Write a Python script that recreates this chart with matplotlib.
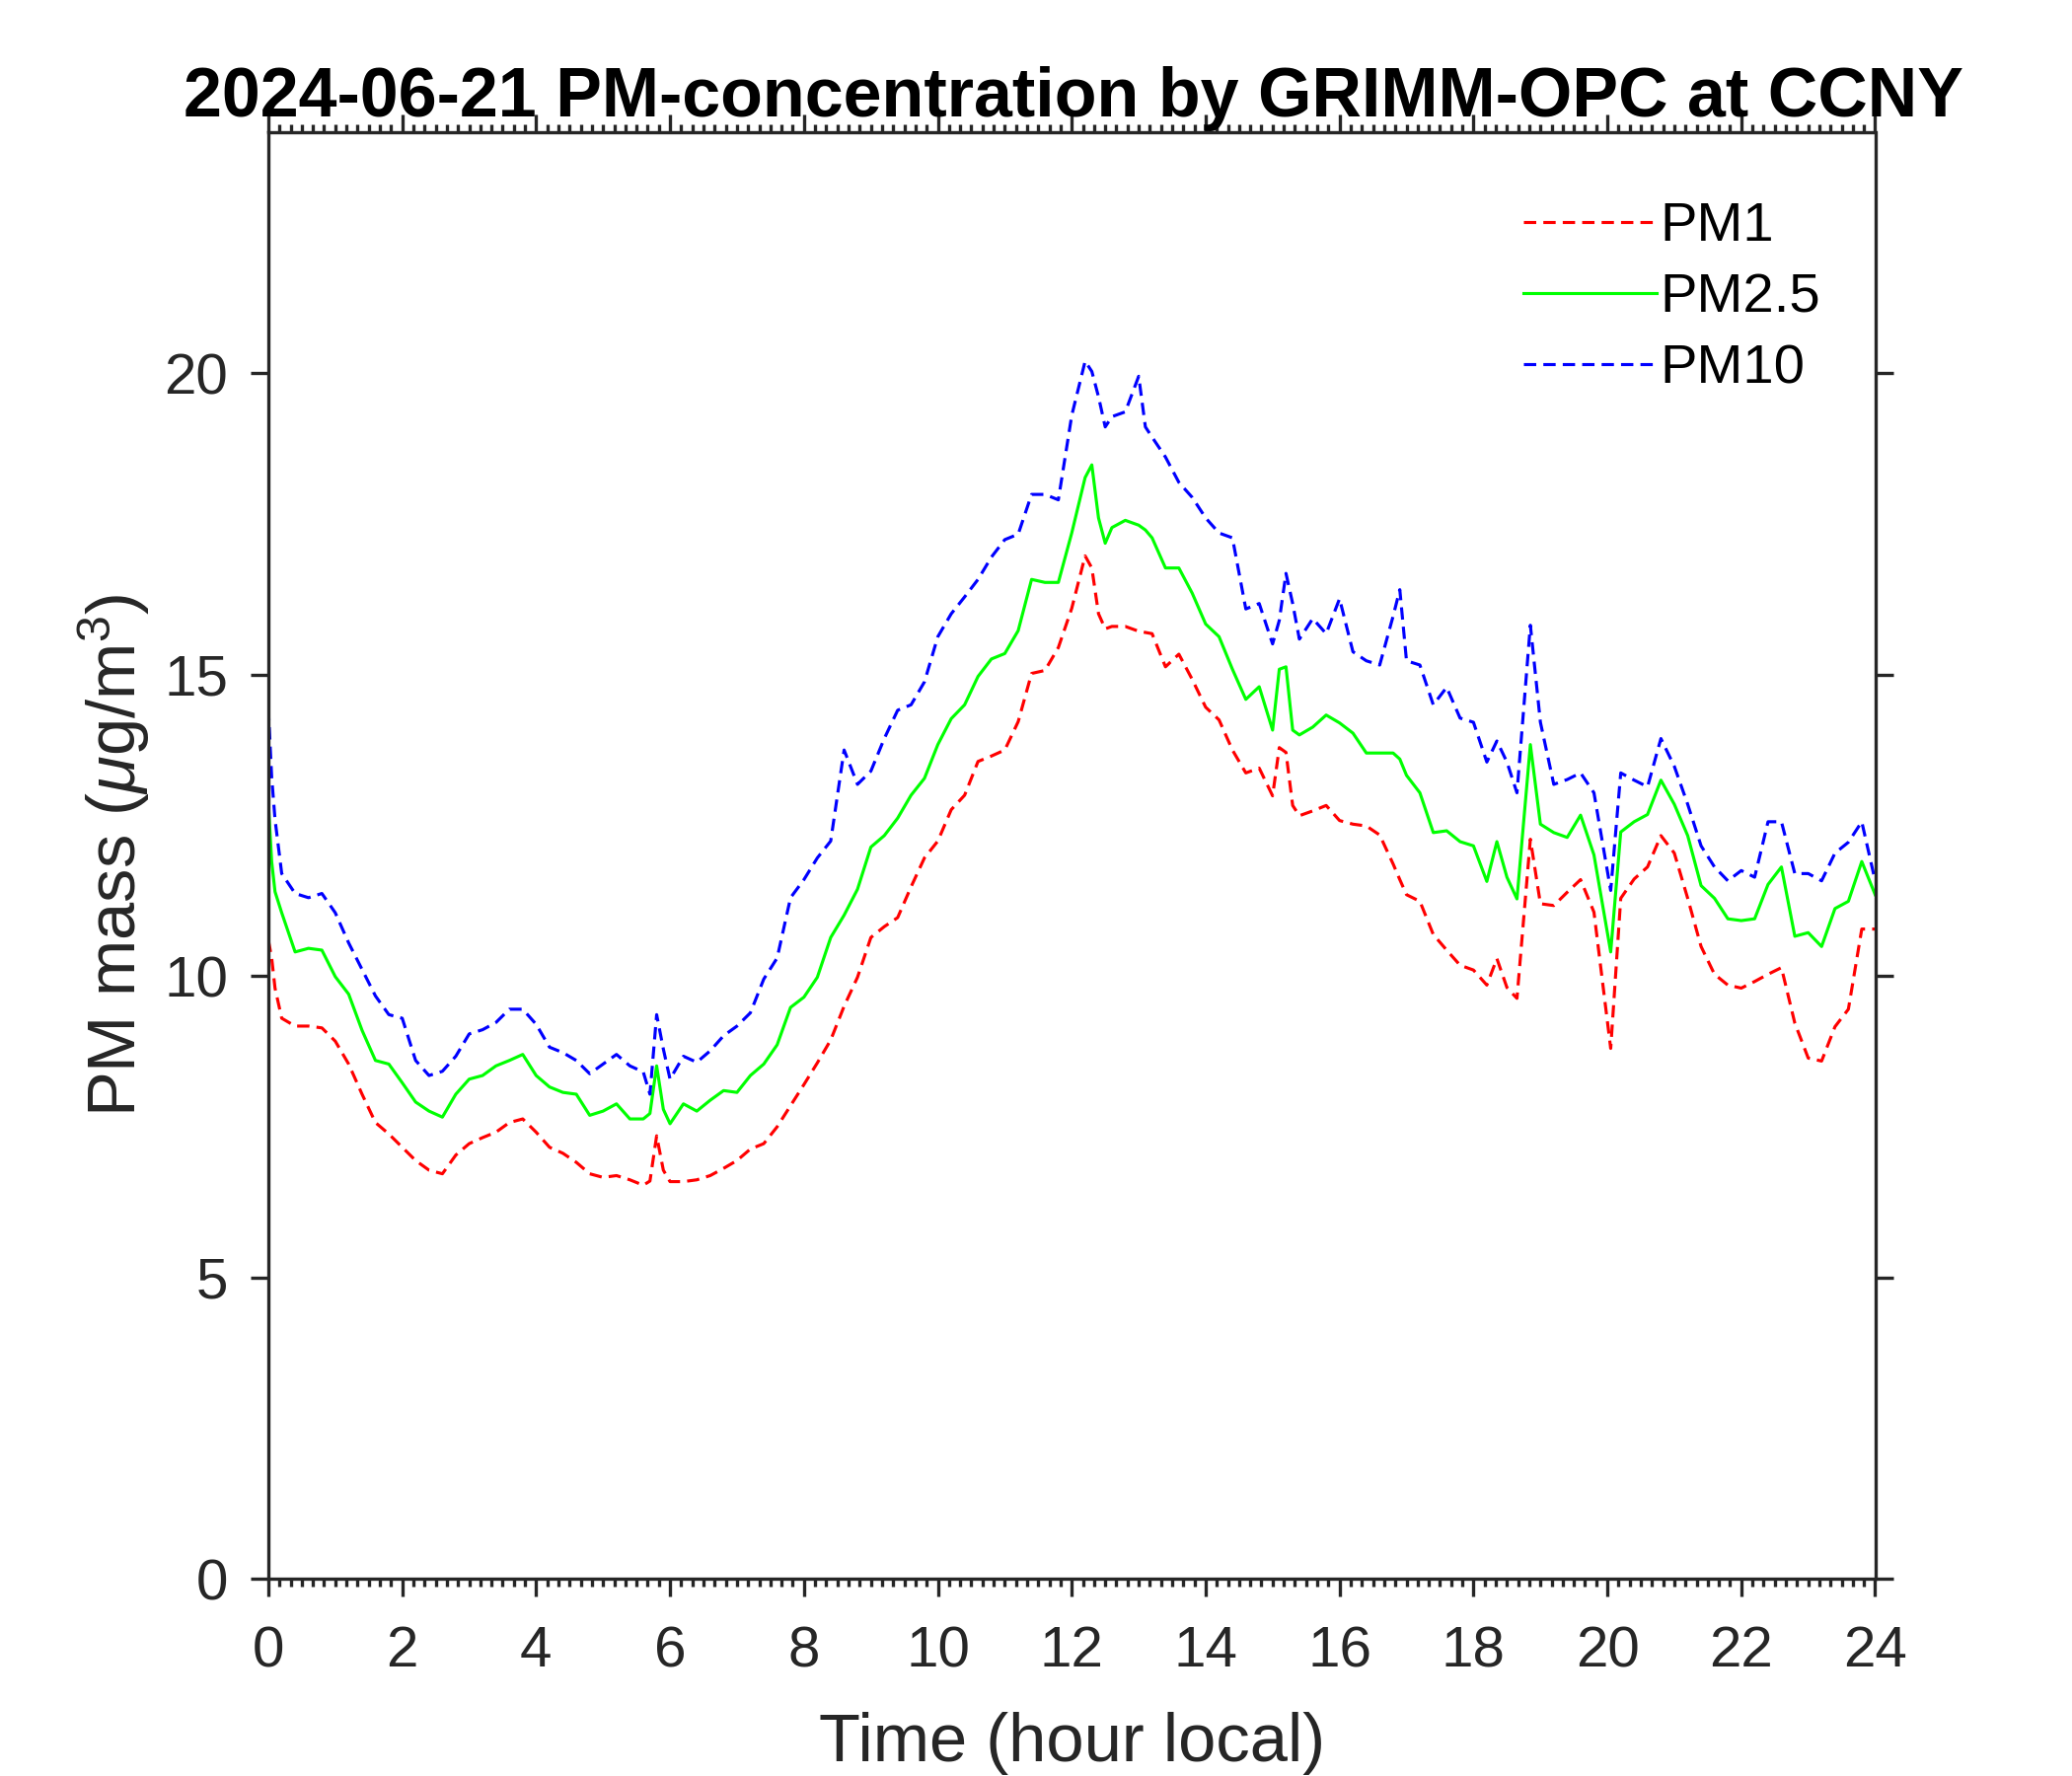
import numpy as np
import matplotlib
matplotlib.use("Agg")
import matplotlib.pyplot as plt
from matplotlib.ticker import MultipleLocator

# --- Data (hour local, ug/m3) ---
hours = [
    0, 0.05, 0.1, 0.2, 0.4, 0.6, 0.8, 1.0, 1.2, 1.4, 1.6, 1.8,
    2.0, 2.2, 2.4, 2.6, 2.8, 3.0, 3.2, 3.4, 3.6, 3.8, 4.0, 4.2, 4.4, 4.6, 4.8, 5.0, 5.2, 5.4, 5.6,
    5.7, 5.8, 5.9, 6.0, 6.2, 6.4, 6.6, 6.8, 7.0, 7.2, 7.4, 7.6, 7.8,
    8.0, 8.2, 8.4, 8.6, 8.8, 9.0, 9.2, 9.4, 9.6, 9.8,
    10.0, 10.2, 10.4, 10.6, 10.8, 11.0, 11.2, 11.4, 11.6, 11.8,
    12.0, 12.2, 12.3, 12.4, 12.5, 12.6, 12.8, 13.0, 13.1, 13.2, 13.4, 13.6, 13.8,
    14.0, 14.2, 14.4, 14.6, 14.8, 15.0, 15.1, 15.2, 15.3, 15.4, 15.6, 15.8,
    16.0, 16.2, 16.4, 16.6, 16.8, 16.9, 17.0, 17.2, 17.4, 17.6, 17.8,
    18.0, 18.2, 18.35, 18.5, 18.65, 18.85, 19.0, 19.2, 19.4, 19.6, 19.8,
    20.05, 20.2, 20.4, 20.6, 20.8, 21.0, 21.2, 21.4, 21.6, 21.8,
    22.0, 22.2, 22.4, 22.6, 22.8, 23.0, 23.2, 23.4, 23.6, 23.8, 24.0,
]

pm1 = [
    10.6, 10.3, 9.8, 9.3, 9.17, 9.17, 9.14, 8.92, 8.54, 8.04, 7.57, 7.38,
    7.16, 6.94, 6.78, 6.72, 7.03, 7.22, 7.32, 7.41, 7.57, 7.63, 7.41, 7.16, 7.06, 6.91, 6.72, 6.66, 6.69, 6.62, 6.53,
    6.6, 7.35, 6.78, 6.59, 6.59, 6.62, 6.69, 6.81, 6.94, 7.13, 7.22, 7.5, 7.85,
    8.2, 8.56, 8.94, 9.5, 9.98, 10.64, 10.82, 10.97, 11.48, 11.96,
    12.24, 12.76, 13.0, 13.56, 13.65, 13.75, 14.22, 15.02, 15.07, 15.45,
    16.1, 16.97, 16.77, 16.01, 15.76, 15.8, 15.8, 15.72, 15.7, 15.68, 15.13, 15.34, 14.92,
    14.46, 14.25, 13.75, 13.37, 13.45, 12.99, 13.79, 13.71, 12.83, 12.66, 12.74, 12.83,
    12.58, 12.52, 12.49, 12.34, 11.86, 11.6, 11.35, 11.24, 10.69, 10.43, 10.18,
    10.1, 9.85, 10.29, 9.81, 9.63, 12.27, 11.2, 11.17, 11.39, 11.6, 11.06,
    8.8, 11.29, 11.61, 11.81, 12.33, 12.04, 11.29, 10.49, 10.03, 9.85,
    9.8, 9.91, 10.03, 10.14, 9.22, 8.64, 8.59, 9.16, 9.45, 10.78, 10.78,
]

pm25 = [
    12.88, 11.9, 11.4, 11.05, 10.4, 10.46, 10.43, 9.99, 9.7, 9.1, 8.6, 8.54,
    8.23, 7.91, 7.76, 7.66, 8.04, 8.29, 8.35, 8.51, 8.6, 8.7, 8.35, 8.16, 8.07, 8.04, 7.69, 7.76, 7.88, 7.63, 7.63,
    7.72, 8.51, 7.79, 7.55, 7.88, 7.76, 7.94, 8.1, 8.07, 8.35, 8.54, 8.86, 9.48,
    9.65, 9.98, 10.64, 11.01, 11.44, 12.14, 12.33, 12.62, 13.0, 13.28,
    13.84, 14.27, 14.5, 14.97, 15.26, 15.35, 15.73, 16.58, 16.53, 16.53,
    17.35, 18.27, 18.48, 17.6, 17.18, 17.44, 17.56, 17.48, 17.4, 17.27, 16.77, 16.77, 16.35,
    15.84, 15.63, 15.09, 14.59, 14.8, 14.08, 15.09, 15.13, 14.08, 14.0, 14.13, 14.33,
    14.2, 14.03, 13.7, 13.7, 13.7, 13.6, 13.33, 13.04, 12.38, 12.41, 12.23,
    12.16, 11.57, 12.23, 11.64, 11.28, 13.84, 12.52, 12.38, 12.3, 12.67, 12.01,
    10.4, 12.39, 12.56, 12.68, 13.25, 12.85, 12.33, 11.5, 11.29, 10.95,
    10.92, 10.95, 11.52, 11.81, 10.66, 10.72, 10.49, 11.12, 11.24, 11.9, 11.35,
]

pm10 = [
    14.45, 13.3, 12.6, 11.7, 11.37, 11.3, 11.37, 11.05, 10.55, 10.11, 9.67, 9.36,
    9.3, 8.6, 8.35, 8.42, 8.67, 9.04, 9.11, 9.23, 9.45, 9.45, 9.2, 8.82, 8.73, 8.6, 8.38, 8.54, 8.7, 8.51, 8.41,
    8.04, 9.36, 8.79, 8.29, 8.67, 8.57, 8.76, 9.01, 9.17, 9.39, 9.95, 10.3, 11.3,
    11.6, 11.96, 12.24, 13.75, 13.18, 13.4, 13.94, 14.41, 14.5, 14.88,
    15.63, 16.01, 16.29, 16.58, 16.95, 17.24, 17.33, 17.99, 17.99, 17.9,
    19.3, 20.2, 20.03, 19.61, 19.11, 19.28, 19.36, 19.95, 19.11, 18.94, 18.61, 18.19, 17.94,
    17.6, 17.35, 17.27, 16.09, 16.18, 15.51, 15.9, 16.68, 16.18, 15.59, 15.93, 15.68,
    16.26, 15.38, 15.23, 15.16, 15.97, 16.41, 15.23, 15.16, 14.5, 14.79, 14.28,
    14.21, 13.55, 13.9, 13.55, 13.04, 15.82, 14.21, 13.18, 13.26, 13.37, 13.04,
    11.42, 13.37, 13.25, 13.14, 13.94, 13.48, 12.85, 12.16, 11.81, 11.58,
    11.75, 11.64, 12.56, 12.56, 11.7, 11.7, 11.58, 12.04, 12.22, 12.56, 11.58,
]

assert len(hours) == len(pm1) == len(pm25) == len(pm10)

# --- Style ---
plt.rcParams['font.family'] = ['Liberation Sans', 'DejaVu Sans']
plt.rcParams['mathtext.fontset'] = 'custom'
plt.rcParams['mathtext.rm'] = 'Liberation Sans'
plt.rcParams['mathtext.it'] = 'Liberation Sans:italic'
AX_COLOR = '#262626'

fig = plt.figure(figsize=(7, 6), dpi=300)
ax = fig.add_axes([0.1295, 0.111, 0.7755, 0.8146])

LW = 0.75
ax.plot(hours, pm1, color='#ff0000', lw=LW, dashes=(4.0, 2.3), label='PM1')
ax.plot(hours, pm25, color='#00ff00', lw=LW, label='PM2.5')
ax.plot(hours, pm10, color='#0000ff', lw=LW, dashes=(4.0, 2.3), label='PM10')

ax.set_xlim(0, 24)
ax.set_ylim(0, 24)
ax.set_xticks(np.arange(0, 25, 2))
ax.set_yticks([0, 5, 10, 15, 20])
ax.xaxis.set_minor_locator(MultipleLocator(1 / 6))

for side in ax.spines.values():
    side.set_color(AX_COLOR)
    side.set_linewidth(0.8)

ax.tick_params(which='both', direction='out', top=True, right=True,
               color=AX_COLOR, width=0.8, labelcolor=AX_COLOR)
ax.tick_params(which='major', length=4.3, labelsize=14, pad=5.5)
ax.tick_params(axis='x', which='major', pad=7)
ax.tick_params(which='minor', length=2.0)
ax.tick_params(axis='y', which='minor', left=False, right=False)

ax.set_xlabel('Time (hour local)', fontsize=16.5, color=AX_COLOR, labelpad=8)
ax.set_ylabel(r'PM mass ($\mu$g/m$^3$)', fontsize=16.5, color=AX_COLOR, labelpad=3)

fig.text(0.518, 0.9344, '2024-06-21 PM-concentration by GRIMM-OPC at CCNY',
         ha='center', va='baseline', fontsize=16.8, fontweight='bold', color='black')

ax.legend(loc='upper left', bbox_to_anchor=(0.781, 0.952), frameon=False,
          fontsize=13.5, borderaxespad=0, borderpad=0, handlelength=2.4,
          handletextpad=0.06, labelspacing=0.36)

fig.savefig('out.png', dpi=300, facecolor='white')
